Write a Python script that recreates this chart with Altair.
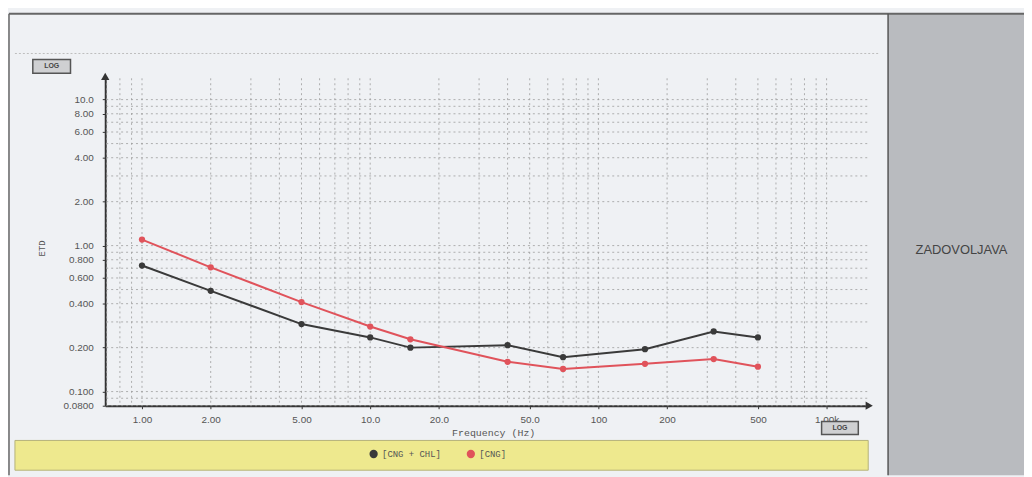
import altair as alt
import pandas as pd

# ---- data ----
freq = [1, 2, 5, 10, 15, 40, 70, 160, 320, 500]
cng_chl = [0.73, 0.49, 0.29, 0.235, 0.20, 0.208, 0.172, 0.195, 0.258, 0.235]
cng = [1.10, 0.71, 0.41, 0.279, 0.228, 0.16, 0.143, 0.155, 0.167, 0.148]
series_names = ["[CNG + CHL]", "[CNG]"]
series_colors = ["#3a3a3a", "#e0535b"]

x_tick_values = [1, 2, 5, 10, 20, 50, 100, 200, 500, 1000]
x_tick_labels = ["1.00", "2.00", "5.00", "10.0", "20.0", "50.0", "100", "200", "500", "1.00k"]
y_tick_values = [0.08, 0.1, 0.2, 0.4, 0.6, 0.8, 1, 2, 4, 6, 8, 10]
y_tick_labels = ["0.0800", "0.100", "0.200", "0.400", "0.600", "0.800", "1.00", "2.00", "4.00", "6.00", "8.00", "10.0"]

x_grid = [0.7, 0.8, 0.9] + [m * d for d in (1, 10, 100) for m in range(1, 10)] + [1000]
y_grid = [0.08, 0.09] + [round(m * d, 3) for d in (0.1, 1) for m in range(1, 10)] + [10]

x_title = "Frequency (Hz)"
y_title = "ETD"
verdict = "ZADOVOLJAVA"

W, H = 768, 330

def label_expr(vals, labs):
    parts = [f"datum.value == {v} ? '{l}'" for v, l in zip(vals, labs)]
    return " : ".join(parts) + " : ''"

rows = []
for f, a, b in zip(freq, cng_chl, cng):
    rows.append({"freq": f, "val": a, "series": series_names[0]})
    rows.append({"freq": f, "val": b, "series": series_names[1]})
df = pd.DataFrame(rows)

xscale = alt.Scale(type="log", domain=[0.69, 1507], nice=False)
yscale = alt.Scale(type="log", domain=[0.08, 14], nice=False)

one = pd.DataFrame({"a": [0]})
base = alt.Chart(one)

# decorations
def box(x, x2, y, y2, fill, stroke=None, sw=0):
    kw = dict(fill=fill)
    if stroke:
        kw.update(stroke=stroke, strokeWidth=sw)
    return base.mark_rect(**kw).encode(
        x=alt.value(x), x2=alt.value(x2), y=alt.value(y), y2=alt.value(y2))

def hline(x, x2, y, color, sw=1, dash=None):
    kw = dict(color=color, strokeWidth=sw)
    if dash:
        kw["strokeDash"] = dash
    return base.mark_rule(**kw).encode(x=alt.value(x), x2=alt.value(x2), y=alt.value(y))

def vline(x, y, y2, color, sw=1):
    return base.mark_rule(color=color, strokeWidth=sw).encode(
        x=alt.value(x), y=alt.value(y), y2=alt.value(y2))

def label_box(x, x2, y, y2):
    r = box(x, x2, y, y2, "#cfd0d2", "#555555", 1.5)
    t = base.mark_text(text="LOG", fontSize=7, font="Liberation Sans", fontWeight="bold",
                       color="#444").encode(x=alt.value((x + x2) / 2), y=alt.value((y + y2) / 2))
    return r + t

panel = box(789, 926, -65, 400, "#b9bbbf")
panel_line = vline(789, -65, 400, "#555555", 1.5)
top_line = hline(-97, 926, -65, "#666666", 2)
left_line = vline(-97, -65, 400, "#666666", 1.5)
dotted_sep = hline(-91, 779, -25, "#bdbdbd", 1, [2, 2])
legend_bar = box(-91, 769, 365, 395, "#eee98e", "#b5b27a", 1)
log1 = label_box(-73, -35, -19, -5)
log2 = label_box(722, 759, 346, 359)
verdict_text = base.mark_text(text=verdict, fontSize=13, font="Liberation Sans", color="#444").encode(
    x=alt.value(863), y=alt.value(173))

gx = alt.Chart(pd.DataFrame({"g": x_grid})).mark_rule(
    color="#9c9c9c", strokeWidth=0.8, strokeDash=[2, 3]).encode(
    x=alt.X("g:Q", scale=xscale))
gy = alt.Chart(pd.DataFrame({"g": y_grid})).mark_rule(
    color="#9c9c9c", strokeWidth=0.8, strokeDash=[2, 3]).encode(
    y=alt.Y("g:Q", scale=yscale))

color = alt.Color("series:N", scale=alt.Scale(domain=series_names, range=series_colors),
                  legend=alt.Legend(orient="none", direction="horizontal", title=None,
                                    legendX=266, legendY=374, symbolType="circle",
                                    symbolSize=40, labelFont="Liberation Mono",
                                    labelFontSize=9, labelColor="#555",
                                    columnPadding=22, symbolStrokeWidth=2))

x_enc = alt.X("freq:Q", scale=xscale, axis=alt.Axis(
    values=x_tick_values, labelExpr=label_expr(x_tick_values, x_tick_labels),
    title=x_title, titleFont="Liberation Mono", titleFontSize=10, titleFontWeight="normal",
    titleColor="#555", titleX=391, titleY=27, titleBaseline="middle",
    labelFont="Liberation Sans", labelFontSize=10, labelColor="#555",
    labelPadding=6, tickSize=3, tickColor="#333", domainColor="#333", domainWidth=2,
    grid=False, labelFlush=False, labelOverlap=False))
y_enc = alt.Y("val:Q", scale=yscale, axis=alt.Axis(
    values=y_tick_values, labelExpr=label_expr(y_tick_values, y_tick_labels),
    title=y_title, titleFont="Liberation Mono", titleFontSize=9, titleFontWeight="normal",
    titleColor="#555", titleX=-59, titleY=171, titleAngle=270, titleAlign="center",
    labelFont="Liberation Sans", labelFontSize=10, labelColor="#555",
    labelPadding=9, tickSize=3, tickColor="#333", domainColor="#333", domainWidth=2,
    grid=False, labelFlush=False, labelOverlap=False))

lines = alt.Chart(df).mark_line(strokeWidth=2).encode(
    x=x_enc, y=y_enc, color=color, detail="series:N")
points = alt.Chart(df).mark_point(filled=True, size=40, opacity=1).encode(
    x=alt.X("freq:Q", scale=xscale), y=alt.Y("val:Q", scale=yscale), color=color)

arrow_up = base.mark_point(shape="triangle-up", filled=True, size=70, color="#333", opacity=1).encode(
    x=alt.value(0), y=alt.value(-2))
arrow_right = base.mark_point(shape="triangle-right", filled=True, size=70, color="#333", opacity=1).encode(
    x=alt.value(W + 2), y=alt.value(H))

chart = alt.layer(
    panel, top_line, left_line, panel_line, dotted_sep, legend_bar,
    gx, gy, lines, points, arrow_up, arrow_right,
    log1, log2, verdict_text,
).properties(
    width=W, height=H,
    padding={"left": 98, "top": 69, "right": 158, "bottom": 70},
    autosize=alt.AutoSizeParams(type="none"),
    background="#eff1f4",
).configure_view(stroke=None)

chart.save("out.html", embed_options={"renderer": "svg", "actions": False})
